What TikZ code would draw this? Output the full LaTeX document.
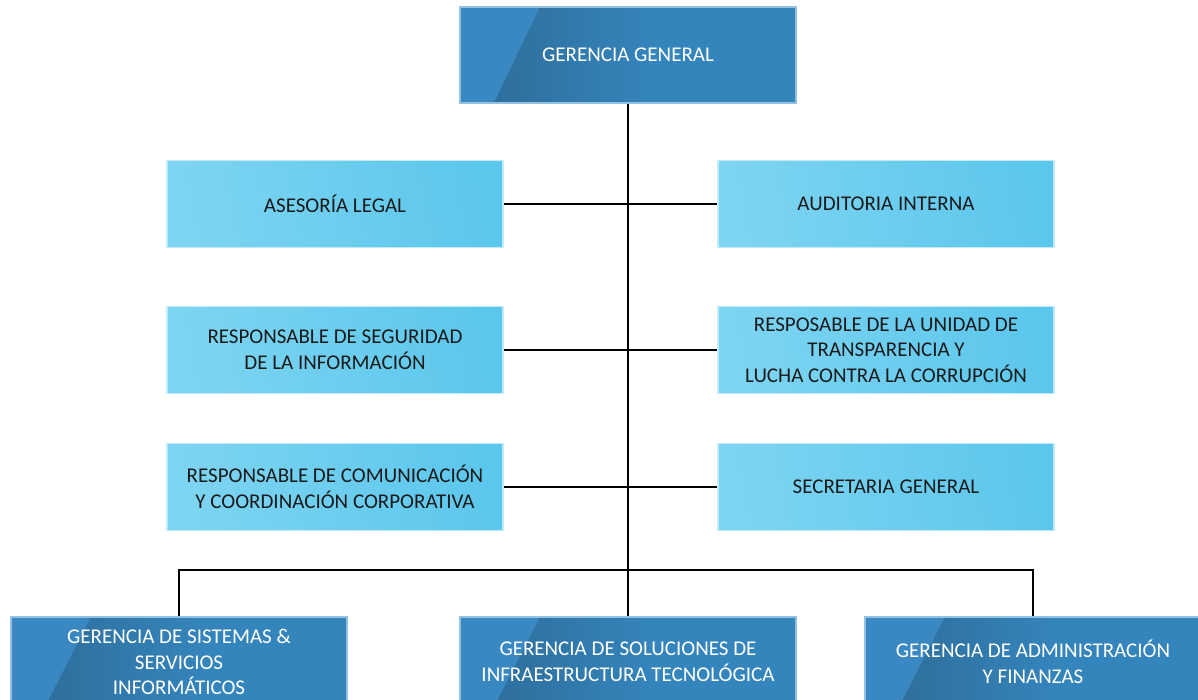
\documentclass[tikz,border=0pt]{standalone}
\usepackage{fontspec}
\setmainfont{Carlito}
\usetikzlibrary{calc}
\definecolor{color_org_dark}{HTML}{3585BD}
\definecolor{color_org_dark_left}{HTML}{3A88C2}
\definecolor{color_org_dark_band}{HTML}{2E6F9C}
\definecolor{color_org_dark_border}{HTML}{93C1E2}
\definecolor{color_org_light_a}{HTML}{7DD4F1}
\definecolor{color_org_light_b}{HTML}{5CC7EC}
\definecolor{color_org_light_border}{HTML}{C2EBF9}
\definecolor{color_org_text}{HTML}{1A1A1A}
\def\orgboxwidth{168pt}
\def\orgboxheight{43.5pt}

\tikzset{
    orgbox/.style={rectangle, minimum width=\orgboxwidth, minimum height=\orgboxheight,
        inner sep=2pt, align=center, font=\fontsize{10.5}{12.75}\selectfont, line width=0.8pt},
    % gerencias: blue with the slanted dark band
    gerencia/.style={orgbox, draw=color_org_dark_border, fill=color_org_dark, text=white,
        minimum height=48pt,
        path picture={
            \fill[color_org_dark_left] (path picture bounding box.south west) rectangle
                ($(path picture bounding box.north west)+(40pt,0)$);
            \begin{scope}
                \clip ($(path picture bounding box.south west)+(17pt,0)$) --
                      ($(path picture bounding box.north west)+(40pt,0)$) --
                      (path picture bounding box.north east) --
                      (path picture bounding box.south east) -- cycle;
                \shade[left color=color_org_dark_band, right color=color_org_dark]
                    ($(path picture bounding box.south west)+(17pt,0)$) rectangle
                    ($(path picture bounding box.north west)+(100pt,0)$);
            \end{scope}
        }},
    % staff units: light blue
    staff/.style={orgbox, draw=color_org_light_border, text=color_org_text,
        left color=color_org_light_a, right color=color_org_light_b, shading angle=100},
    orgline/.style={black, line width=0.7pt}
}

\begin{document}
\begin{tikzpicture}[x=0.5pt, y=-0.5pt]
    \useasboundingbox (0,0) rectangle (1198,700);

    % top
    \node[gerencia] (gg) at (628,55) {GERENCIA GENERAL};

    % staff units
    \node[staff] (al)  at (335,204) {ASESORÍA LEGAL};
    \node[staff] (ai)  at (886,204) {AUDITORIA INTERNA};
    \node[staff] (rsi) at (335,350) {RESPONSABLE DE SEGURIDAD\\DE LA INFORMACIÓN};
    \node[staff] (rut) at (886,350) {RESPOSABLE DE LA UNIDAD DE\\TRANSPARENCIA Y\\LUCHA CONTRA LA CORRUPCIÓN};
    \node[staff] (rcc) at (335,487) {RESPONSABLE DE COMUNICACIÓN\\Y COORDINACIÓN CORPORATIVA};
    \node[staff] (sg)  at (886,487) {SECRETARIA GENERAL};

    % gerencias de linea (cut by the page bottom)
    \node[gerencia, minimum height=45pt] (gss) at (179,662)  {GERENCIA DE SISTEMAS \&\\SERVICIOS\\INFORMÁTICOS};
    \node[gerencia, minimum height=45pt] (gst) at (628,662)  {GERENCIA DE SOLUCIONES DE\\INFRAESTRUCTURA TECNOLÓGICA};
    \node[gerencia, minimum height=45pt] (gaf) at (1033,662) {GERENCIA DE ADMINISTRACIÓN\\Y FINANZAS};

    % connectors
    \draw[orgline] (gg.south) -- (gst.north);
    \draw[orgline] (al.east) -- (ai.west);
    \draw[orgline] (rsi.east) -- (rut.west);
    \draw[orgline] (rcc.east) -- (sg.west);
    \coordinate (bus) at (628,570);
    \draw[orgline] (gss.north) |- (bus) -| (gaf.north);
\end{tikzpicture}
\end{document}
